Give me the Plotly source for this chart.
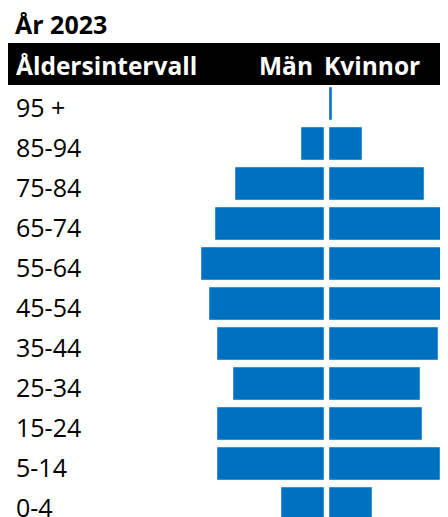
import plotly.graph_objects as go

age_groups = ["95 +", "85-94", "75-84", "65-74", "55-64", "45-54",
              "35-44", "25-34", "15-24", "5-14", "0-4"]
men = [0, 230, 890, 1090, 1230, 1150, 1070, 910, 1070, 1070, 430]
women = [30, 330, 950, 1150, 1220, 1210, 1090, 910, 930, 1110, 430]

title_text = "År 2023"
header_left = "Åldersintervall"
header_men = "Män"
header_women = "Kvinnor"

W, H = 440, 509
BLUE = "#0070C0"
FONT = "Open Sans"

def px(y):
    return 1 - y / H

fig = go.Figure()
fig.add_trace(go.Bar(y=age_groups, x=men, orientation="h", marker_color=BLUE,
                     xaxis="x", yaxis="y", showlegend=False, hoverinfo="x+y"))
fig.add_trace(go.Bar(y=age_groups, x=women, orientation="h", marker_color=BLUE,
                     xaxis="x2", yaxis="y", showlegend=False, hoverinfo="x+y"))

# y: row i centred at 95.5 + 40*i px; plot area spans full height
top_i = (0 - 95.5) / 40
bot_i = (H - 95.5) / 40

fig.update_layout(
    width=W, height=H, margin=dict(l=0, r=0, t=0, b=0),
    paper_bgcolor="white", plot_bgcolor="white",
    bargap=0.175,
    xaxis=dict(domain=[0, 316 / W], range=[3160, 0], visible=False, fixedrange=True),
    xaxis2=dict(domain=[321 / W, 1], range=[0, 1190], visible=False, fixedrange=True),
    yaxis=dict(type="category", categoryarray=age_groups, range=[bot_i, top_i],
               visible=False, fixedrange=True),
    font=dict(family=FONT),
)

fig.add_shape(type="rect", xref="paper", yref="paper",
              x0=0, x1=433 / W, y0=px(77), y1=px(35),
              fillcolor="black", line_width=0, layer="above")

fig.add_annotation(text=f"<b>{title_text}</b>", xref="paper", yref="paper",
                   x=5 / W, y=px(16), xanchor="left", yanchor="middle",
                   showarrow=False, font=dict(size=25, color="black", family=FONT))
fig.add_annotation(text=f"<b>{header_left}</b>", xref="paper", yref="paper",
                   x=6 / W, y=px(58), xanchor="left", yanchor="middle",
                   showarrow=False, font=dict(size=24.5, color="white", family=FONT))
fig.add_annotation(text=f"<b>{header_men}</b>", xref="paper", yref="paper",
                   x=307 / W, y=px(58), xanchor="right", yanchor="middle",
                   showarrow=False, font=dict(size=24.5, color="white", family=FONT))
fig.add_annotation(text=f"<b>{header_women}</b>", xref="paper", yref="paper",
                   x=314 / W, y=px(58), xanchor="left", yanchor="middle",
                   showarrow=False, font=dict(size=24.5, color="white", family=FONT))

for g in age_groups:
    fig.add_annotation(text=g, xref="paper", yref="y", x=6 / W, y=g,
                       xanchor="left", yanchor="middle", showarrow=False, yshift=-3,
                       font=dict(size=25, color="black", family=FONT))

fig.write_html("out.html")
